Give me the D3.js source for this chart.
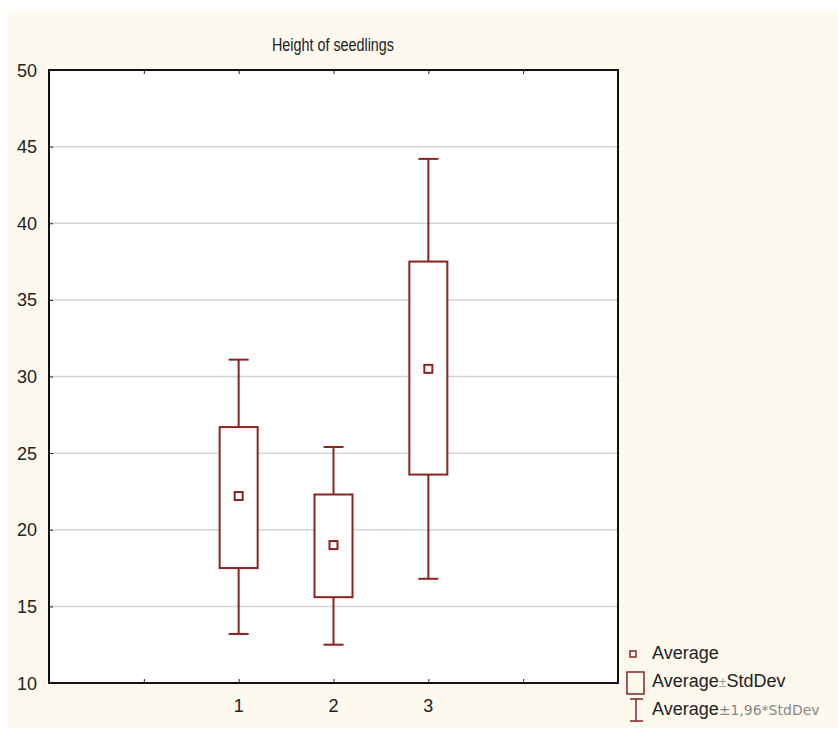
<!DOCTYPE html>
<html>
<head>
<meta charset="utf-8">
<script src="https://cdn.jsdelivr.net/npm/d3@7"></script>
<style>
  body { margin: 0; background: #ffffff; }
  svg { display: block; }
</style>
</head>
<body>
<svg id="chart" width="838" height="731"></svg>
<script>
// data
var groups = ["1", "2", "3"];
var means = [22.2, 19.0, 30.5];
var sdLow = [17.5, 15.6, 23.6];
var sdHigh = [26.7, 22.3, 37.5];
var ciLow = [13.2, 12.5, 16.8];
var ciHigh = [31.1, 25.4, 44.2];
var yTicks = [10, 15, 20, 25, 30, 35, 40, 45, 50];
var xTickPositions = [0, 1, 2, 3, 4];

var mark = "#8b2323";
var bg = "#fdf9ee";

var svg = d3.select("#chart");

svg.append("rect")
  .attr("x", 8).attr("y", 12)
  .attr("width", 830).attr("height", 716)
  .attr("fill", bg);

var plotL = 49, plotR = 618, plotT = 70, plotB = 683;

var x = d3.scaleLinear().domain([-1, 5]).range([plotL, plotR]);
var y = d3.scaleLinear().domain([10, 50]).range([plotB, plotT]);

// plot area
svg.append("rect")
  .attr("x", plotL).attr("y", plotT)
  .attr("width", plotR - plotL).attr("height", plotB - plotT)
  .attr("fill", "#ffffff");

// grid
svg.selectAll("line.grid")
  .data(yTicks.slice(1, -1))
  .enter().append("line")
  .attr("class", "grid")
  .attr("x1", plotL).attr("x2", plotR)
  .attr("y1", function(d) { return y(d); })
  .attr("y2", function(d) { return y(d); })
  .attr("stroke", "#d4d4d4")
  .attr("stroke-width", 1.5);

// axes
var fontFam = "Arial, 'Liberation Sans', sans-serif";

var yAxis = svg.append("g")
  .attr("transform", "translate(" + plotL + ",0)")
  .call(d3.axisRight(y).tickValues(yTicks).tickSize(4).tickFormat(""));
yAxis.select(".domain").remove();
yAxis.selectAll("line").attr("stroke", "#222");

svg.selectAll("text.ylab")
  .data(yTicks)
  .enter().append("text")
  .attr("class", "ylab")
  .attr("x", 37)
  .attr("y", function(d) { return y(d) + 6.5; })
  .attr("text-anchor", "end")
  .attr("font-family", fontFam)
  .attr("font-size", 18)
  .attr("fill", "#222")
  .text(function(d) { return d; });

var xBottom = svg.append("g")
  .attr("transform", "translate(0," + plotB + ")")
  .call(d3.axisTop(x).tickValues(xTickPositions).tickSize(4).tickFormat(""));
xBottom.select(".domain").remove();
xBottom.selectAll("line").attr("stroke", "#222");

var xTop = svg.append("g")
  .attr("transform", "translate(0," + plotT + ")")
  .call(d3.axisBottom(x).tickValues(xTickPositions).tickSize(4).tickFormat(""));
xTop.select(".domain").remove();
xTop.selectAll("line").attr("stroke", "#222");

svg.selectAll("text.xlab")
  .data(groups)
  .enter().append("text")
  .attr("class", "xlab")
  .attr("x", function(d, i) { return x(i + 1); })
  .attr("y", 712)
  .attr("text-anchor", "middle")
  .attr("font-family", fontFam)
  .attr("font-size", 18)
  .attr("fill", "#222")
  .text(function(d) { return d; });

// frame
svg.append("rect")
  .attr("x", plotL).attr("y", plotT)
  .attr("width", plotR - plotL).attr("height", plotB - plotT)
  .attr("fill", "none")
  .attr("stroke", "#111")
  .attr("stroke-width", 2);

// title
svg.append("text")
  .attr("x", 272).attr("y", 51)
  .attr("font-family", fontFam)
  .attr("font-size", 18)
  .attr("textLength", 122)
  .attr("lengthAdjust", "spacingAndGlyphs")
  .attr("fill", "#222")
  .text("Height of seedlings");

// whiskers, boxes, means
var boxW = 38, capW = 20, meanS = 8;
var g = svg.selectAll("g.grp")
  .data(groups)
  .enter().append("g")
  .attr("class", "grp");

g.append("line")
  .attr("x1", function(d, i) { return x(i + 1); })
  .attr("x2", function(d, i) { return x(i + 1); })
  .attr("y1", function(d, i) { return y(ciHigh[i]); })
  .attr("y2", function(d, i) { return y(ciLow[i]); })
  .attr("stroke", mark).attr("stroke-width", 2);

g.append("line")
  .attr("x1", function(d, i) { return x(i + 1) - capW / 2; })
  .attr("x2", function(d, i) { return x(i + 1) + capW / 2; })
  .attr("y1", function(d, i) { return y(ciHigh[i]); })
  .attr("y2", function(d, i) { return y(ciHigh[i]); })
  .attr("stroke", mark).attr("stroke-width", 2);

g.append("line")
  .attr("x1", function(d, i) { return x(i + 1) - capW / 2; })
  .attr("x2", function(d, i) { return x(i + 1) + capW / 2; })
  .attr("y1", function(d, i) { return y(ciLow[i]); })
  .attr("y2", function(d, i) { return y(ciLow[i]); })
  .attr("stroke", mark).attr("stroke-width", 2);

g.append("rect")
  .attr("x", function(d, i) { return x(i + 1) - boxW / 2; })
  .attr("y", function(d, i) { return y(sdHigh[i]); })
  .attr("width", boxW)
  .attr("height", function(d, i) { return y(sdLow[i]) - y(sdHigh[i]); })
  .attr("fill", "#ffffff")
  .attr("stroke", mark).attr("stroke-width", 2);

g.append("rect")
  .attr("x", function(d, i) { return x(i + 1) - meanS / 2; })
  .attr("y", function(d, i) { return y(means[i]) - meanS / 2; })
  .attr("width", meanS).attr("height", meanS)
  .attr("fill", "none")
  .attr("stroke", mark).attr("stroke-width", 2);

// legend
var leg = svg.append("g");
leg.append("rect")
  .attr("x", 630).attr("y", 651).attr("width", 6).attr("height", 6)
  .attr("fill", "none").attr("stroke", mark).attr("stroke-width", 1.5);
leg.append("text")
  .attr("x", 652).attr("y", 659)
  .attr("font-family", fontFam).attr("font-size", 18).attr("fill", "#222")
  .text("Average");

leg.append("rect")
  .attr("x", 627).attr("y", 672).attr("width", 17).attr("height", 22)
  .attr("fill", "none").attr("stroke", mark).attr("stroke-width", 1.5);
var t2 = leg.append("text")
  .attr("x", 652).attr("y", 687)
  .attr("font-family", fontFam).attr("font-size", 18).attr("fill", "#222");
t2.append("tspan").text("Average");
t2.append("tspan").attr("fill", "#999").attr("font-size", 14).text("±");
t2.append("tspan").text("StdDev");

leg.append("line").attr("x1", 636).attr("x2", 636).attr("y1", 699).attr("y2", 721)
  .attr("stroke", mark).attr("stroke-width", 1.5);
leg.append("line").attr("x1", 630).attr("x2", 643).attr("y1", 699).attr("y2", 699)
  .attr("stroke", mark).attr("stroke-width", 1.5);
leg.append("line").attr("x1", 630).attr("x2", 643).attr("y1", 721).attr("y2", 721)
  .attr("stroke", mark).attr("stroke-width", 1.5);
var t3 = leg.append("text")
  .attr("x", 652).attr("y", 715)
  .attr("font-family", fontFam).attr("font-size", 18).attr("fill", "#222");
t3.append("tspan").text("Average");
t3.append("tspan").attr("fill", "#888")
  .attr("font-family", "'DejaVu Sans', sans-serif").attr("font-size", 14)
  .text("±1,96*StdDev");
</script>
</body>
</html>
